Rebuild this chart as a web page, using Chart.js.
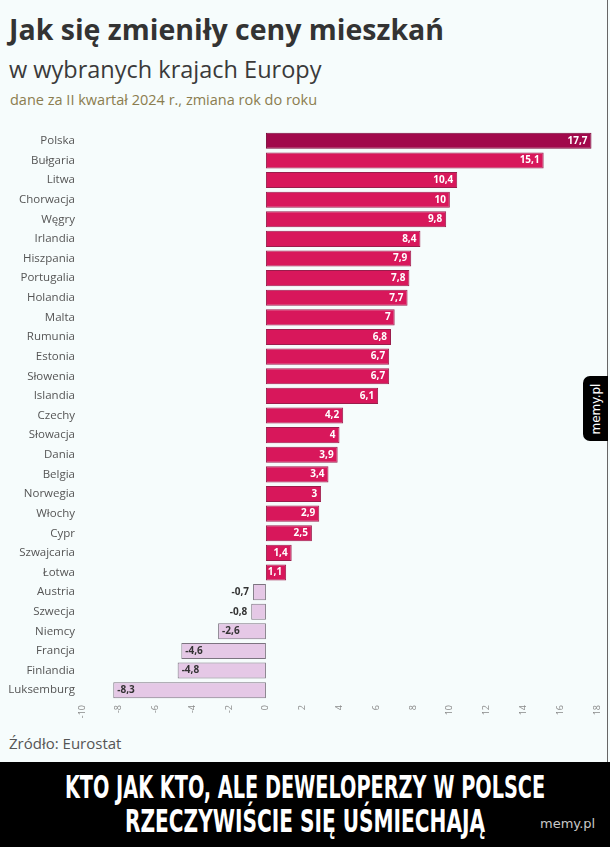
<!DOCTYPE html>
<html>
<head>
<meta charset="utf-8">
<script src="https://cdn.jsdelivr.net/npm/chart.js@4.4.1/dist/chart.umd.min.js"></script>
<style>
  html, body { margin: 0; padding: 0; }
  body { width: 610px; height: 847px; background: #f6fcfc; position: relative; overflow: hidden; font-family: "Open Sans", sans-serif; }
  .rb { position: absolute; right: 2px; top: 0; width: 1px; height: 762px; background: #666; }
  #t1 { position: absolute; left: 9px; top: 10px; font-size: 28.5px; font-weight: 700; color: #333; white-space: nowrap; }
  #t2 { position: absolute; left: 9px; top: 53px; font-size: 23.5px; font-weight: 400; color: #3a3a3a; white-space: nowrap; }
  #t3 { position: absolute; left: 10px; top: 90px; font-size: 14.5px; color: #8b7d4f; white-space: nowrap; }
  #src { position: absolute; left: 9px; top: 733px; font-size: 15px; color: #555; white-space: nowrap; }
  #wrap { position: absolute; left: 0; top: 131px; width: 606px; height: 599px; }
  #banner { position: absolute; left: 0; top: 762px; width: 610px; height: 85px; background: #000; }
  .bl { position: absolute; left: 305px; color: #fff; font-family: "DejaVu Sans Condensed", "DejaVu Sans", sans-serif; font-weight: 700; font-size: 32px; line-height: 32px; white-space: nowrap; transform-origin: 0 0; }
  #wm { position: absolute; left: 540px; top: 816px; font-size: 13px; color: #c8c8c8; font-family: "DejaVu Sans", sans-serif; }
  #tab { position: absolute; left: 583px; top: 376px; width: 25px; height: 65px; background: #000; border-radius: 7px 0 0 7px; }
  #tab span { position: absolute; left: 50%; top: 50%; transform: translate(-50%,-50%) rotate(-90deg); color: #fff; font-size: 12px; font-family: "DejaVu Sans", sans-serif; white-space: nowrap; }
</style>
</head>
<body>
<div class="rb"></div>
<div id="t1">Jak się zmieniły ceny mieszkań</div>
<div id="t2">w wybranych krajach Europy</div>
<div id="t3">dane za II kwartał 2024 r., zmiana rok do roku</div>
<div id="wrap"><canvas id="c"></canvas></div>
<div id="src">Źródło: Eurostat</div>
<div id="tab"><span>memy.pl</span></div>
<div id="banner">
  <div class="bl" id="l1" style="top:9px">KTO JAK KTO, ALE DEWELOPERZY W POLSCE</div>
  <div class="bl" id="l2" style="top:43px">RZECZYWIŚCIE SIĘ UŚMIECHAJĄ</div>
</div>
<div id="wm">memy.pl</div>
<script>
const countries = ["Polska","Bułgaria","Litwa","Chorwacja","Węgry","Irlandia","Hiszpania","Portugalia","Holandia","Malta","Rumunia","Estonia","Słowenia","Islandia","Czechy","Słowacja","Dania","Belgia","Norwegia","Włochy","Cypr","Szwajcaria","Łotwa","Austria","Szwecja","Niemcy","Francja","Finlandia","Luksemburg"];
const changes = [17.7,15.1,10.4,10,9.8,8.4,7.9,7.8,7.7,7,6.8,6.7,6.7,6.1,4.2,4,3.9,3.4,3,2.9,2.5,1.4,1.1,-0.7,-0.8,-2.6,-4.6,-4.8,-8.3];
const xTicks = [-10,-8,-6,-4,-2,0,2,4,6,8,10,12,14,16,18];

function fitLine(id, target) {
  const el = document.getElementById(id);
  const w = el.offsetWidth;
  const s = target / w;
  el.style.transform = 'scaleX(' + s + ') translateX(-50%)';
}
fitLine('l1', 480);
fitLine('l2', 360);

const fillColors = changes.map((v, i) => i === 0 ? '#a1094b' : (v >= 0 ? '#d8175b' : '#e5c8e6'));
const borderColors = changes.map((v, i) => i === 0 ? '#7a0838' : (v >= 0 ? '#9a1d4c' : '#7c7480'));

const labelPlugin = {
  id: 'valLabels',
  afterDatasetsDraw(chart) {
    const ctx = chart.ctx;
    const meta = chart.getDatasetMeta(0);
    ctx.save();
    ctx.font = 'bold 10px "Open Sans", sans-serif';
    ctx.textBaseline = 'middle';
    meta.data.forEach((bar, i) => {
      const v = changes[i];
      const txt = String(v).replace('.', ',');
      if (v >= 0) {
        ctx.fillStyle = '#ffffff';
        ctx.textAlign = 'right';
        ctx.fillText(txt, bar.x - 4, bar.y);
      } else {
        const w = bar.base - bar.x;
        ctx.fillStyle = '#333';
        if (w > 30) {
          ctx.textAlign = 'left';
          ctx.fillText(txt, bar.x + 4, bar.y);
        } else {
          ctx.textAlign = 'right';
          ctx.fillText(txt, bar.x - 4, bar.y);
        }
      }
    });
    ctx.restore();
  }
};

new Chart(document.getElementById('c'), {
  type: 'bar',
  data: {
    labels: countries,
    datasets: [{
      data: changes,
      backgroundColor: fillColors,
      borderColor: borderColors,
      borderWidth: 1,
      borderSkipped: false,
      barPercentage: 0.82,
      categoryPercentage: 1
    }]
  },
  options: {
    indexAxis: 'y',
    responsive: true,
    maintainAspectRatio: false,
    animation: false,
    layout: { padding: { top: 0, right: 9, left: 0, bottom: 0 } },
    plugins: { legend: { display: false }, tooltip: { enabled: false } },
    scales: {
      x: {
        min: -10, max: 18,
        afterBuildTicks(axis) { axis.ticks = xTicks.map(v => ({ value: v })); },
        afterFit(axis) { axis.height = 30; axis.paddingLeft = 0; axis.paddingRight = 0; },
        grid: { display: false, drawTicks: false },
        border: { display: false },
        ticks: {
          minRotation: 90, maxRotation: 90,
          color: '#8a8a8a',
          font: { size: 9, family: '"Open Sans", sans-serif' },
          padding: 5
        }
      },
      y: {
        afterFit(axis) { axis.width = 82; axis.paddingTop = 0; axis.paddingBottom = 0; },
        grid: { display: false, drawTicks: false },
        border: { display: false },
        ticks: {
          color: '#555',
          font: { size: 11.5, family: '"Open Sans", sans-serif' },
          padding: 7
        }
      }
    }
  },
  plugins: [labelPlugin]
});
</script>
</body>
</html>
